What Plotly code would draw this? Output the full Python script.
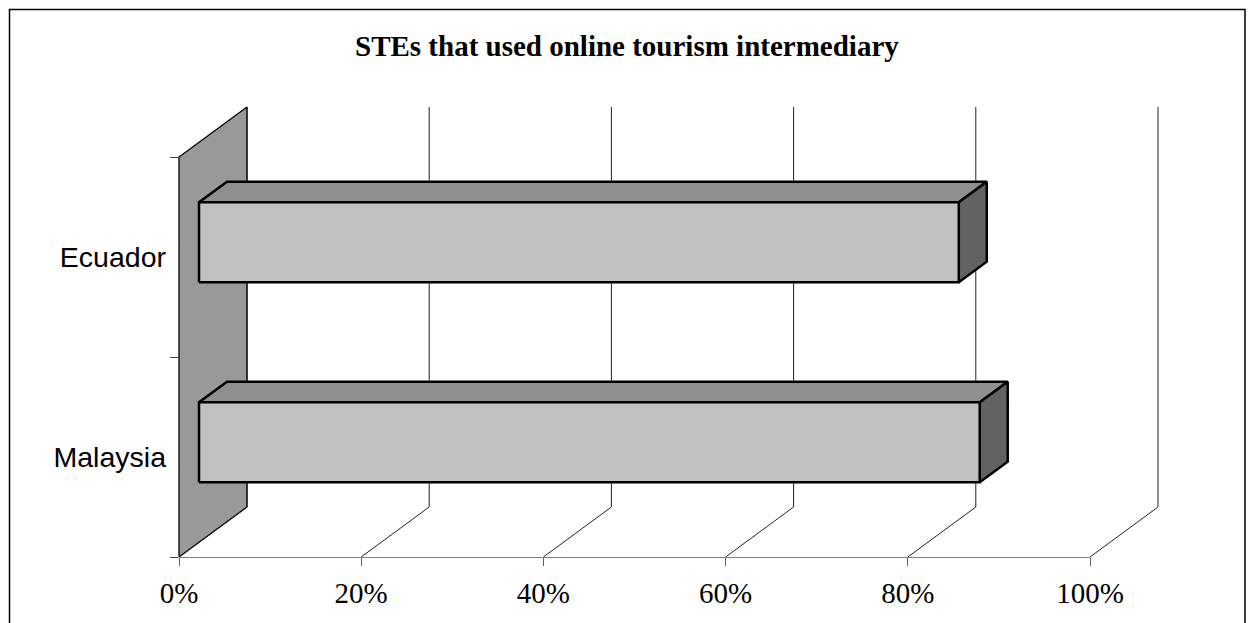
import plotly.graph_objects as go

# ---------------- data ----------------
categories = ["Malaysia", "Ecuador"]
values = [85.7, 83.4]
tick_values = [0, 20, 40, 60, 80, 100]
tick_labels = ["0%", "20%", "40%", "60%", "80%", "100%"]
title_text = "STEs that used online tourism intermediary"

# ---------------- layout geometry (pixels) ----------------
W, H = 1248, 623
X0_PX, X100_PX = 179, 1090          # front floor edge: 0% .. 100%
FLOOR_PX, TOP_PX = 557, 157         # front plane: floor .. top
PX_PER_PCT = (X100_PX - X0_PX) / 100.0
PX_PER_CAT = (FLOOR_PX - TOP_PX) / len(categories)
DEPTH_X = 68 / PX_PER_PCT           # full depth offset, in % units
DEPTH_Y = 50 / PX_PER_CAT           # full depth offset, in category units
BAR_FRONT, BAR_BACK = 20 / 68, 48 / 68
BAR_HALF = 0.2
Y_LO, Y_HI = -0.5, len(categories) - 0.5

FRONT_COL = "#C0C0C0"
TOP_COL = "#8F8F8F"
SIDE_COL = "#626262"
WALL_COL = "#999999"


def P(x, y, d):
    return x + d * DEPTH_X, y + d * DEPTH_Y


def poly(pts, fill, lw, color="black"):
    pts = list(pts) + [pts[0]]
    xs = [p[0] for p in pts]
    ys = [p[1] for p in pts]
    return go.Scatter(x=xs, y=ys, mode="lines", fill="toself", fillcolor=fill,
                      line=dict(color=color, width=lw), hoverinfo="skip",
                      showlegend=False)


def seg(a, b, lw=1, color="black"):
    return go.Scatter(x=[a[0], b[0]], y=[a[1], b[1]], mode="lines",
                      line=dict(color=color, width=lw), hoverinfo="skip",
                      showlegend=False)


fig = go.Figure()

# side wall
fig.add_trace(poly([P(0, Y_LO, 0), P(0, Y_LO, 1), P(0, Y_HI, 1), P(0, Y_HI, 0)],
                   WALL_COL, 1.3))

# back wall gridlines and floor lines
for t in tick_values:
    fig.add_trace(seg(P(t, Y_LO, 1), P(t, Y_HI, 1), 1, "#222222"))
    fig.add_trace(seg(P(t, Y_LO, 0), P(t, Y_LO, 1), 1, "#222222"))

# bars
for i, (cat, v) in enumerate(zip(categories, values)):
    lo, hi = i - BAR_HALF, i + BAR_HALF
    top = [P(0, hi, BAR_FRONT), P(v, hi, BAR_FRONT), P(v, hi, BAR_BACK), P(0, hi, BAR_BACK)]
    side = [P(v, lo, BAR_FRONT), P(v, lo, BAR_BACK), P(v, hi, BAR_BACK), P(v, hi, BAR_FRONT)]
    front = [P(0, lo, BAR_FRONT), P(v, lo, BAR_FRONT), P(v, hi, BAR_FRONT), P(0, hi, BAR_FRONT)]
    fig.add_trace(poly(top, TOP_COL, 2.5))
    fig.add_trace(poly(side, SIDE_COL, 2.5))
    fig.add_trace(poly(front, FRONT_COL, 2.5))

# dummy trace for the labelled axes
fig.add_trace(go.Scatter(x=[None], y=[None], xaxis="x2", yaxis="y2",
                         showlegend=False, hoverinfo="skip"))

x_range = [-X0_PX / PX_PER_PCT, (W - X0_PX) / PX_PER_PCT]
y_range = [Y_LO - (H - FLOOR_PX) / PX_PER_CAT, Y_LO + FLOOR_PX / PX_PER_CAT]

fig.update_layout(
    template="none",
    width=W, height=H, autosize=False,
    margin=dict(l=0, r=0, t=0, b=0, pad=0, autoexpand=False),
    paper_bgcolor="white", plot_bgcolor="rgba(0,0,0,0)",
    showlegend=False,
    xaxis=dict(domain=[0, 1], range=x_range, visible=False, fixedrange=True,
               automargin=False),
    yaxis=dict(domain=[0, 1], range=y_range, visible=False, fixedrange=True,
               automargin=False),
    xaxis2=dict(domain=[X0_PX / W, X100_PX / W], range=[0, 100], anchor="y2",
                tickmode="array", tickvals=tick_values, ticktext=tick_labels,
                ticks="outside", ticklen=8, tickcolor="#606060", tickwidth=1,
                showline=True, linecolor="#808080", linewidth=1.3,
                showgrid=False, zeroline=False, fixedrange=True, automargin=False,
                ticklabelstandoff=2,
                tickfont=dict(family="Liberation Serif", size=29, color="black")),
    yaxis2=dict(domain=[(H - FLOOR_PX) / H, (H - TOP_PX) / H], range=[Y_LO, Y_HI],
                anchor="x2", tickmode="array", tickvals=list(range(len(categories))),
                ticktext=categories, ticks="", ticklabelstandoff=12,
                minor=dict(ticks="outside", ticklen=8, tick0=Y_LO, dtick=1,
                           tickcolor="#404040", tickwidth=1, showgrid=False),
                showline=False, showgrid=False, zeroline=False, fixedrange=True,
                automargin=False,
                tickfont=dict(family="Liberation Sans", size=28.5, color="black")),
    annotations=[dict(text="<b>" + title_text + "</b>", xref="paper", yref="paper",
                      x=627 / W, y=1 - 46 / H, xanchor="center", yanchor="middle",
                      showarrow=False,
                      font=dict(family="Liberation Serif", size=29, color="black"))],
    shapes=[dict(type="rect", xref="paper", yref="paper",
                 x0=9.5 / W, x1=1245 / W, y0=-0.05, y1=1 - 9.5 / H,
                 line=dict(color="black", width=1.5))],
)

fig.write_html("out.html")
